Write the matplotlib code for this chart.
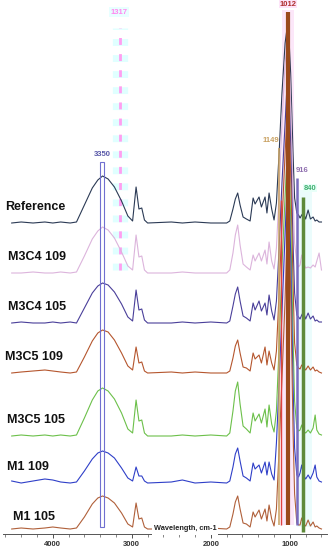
import matplotlib

matplotlib.use("Agg")
import matplotlib.pyplot as plt
import numpy as np
from matplotlib.patches import Rectangle
from matplotlib.ticker import MultipleLocator

plt.rcParams["font.family"] = ["Liberation Sans", "DejaVu Sans"]

# wavenumber grid (cm-1), shared by all spectra
wn = [4520, 4400, 4250, 4100, 4000, 3900, 3780, 3700,
      3600, 3500, 3430, 3370, 3300, 3220, 3130, 3050, 2990,
      2946, 2910, 2874, 2840, 2800,
      2500, 2360, 2200, 2000,
      1800, 1760, 1720, 1690, 1660, 1630, 1592, 1550, 1503,
      1465, 1440, 1390, 1360, 1314, 1290, 1263, 1230, 1200,
      1170, 1136, 1100, 1060, 1022, 990, 960, 940,
      912, 890, 871, 850, 829, 800, 769, 740, 706, 680, 659, 630, 600]

names = ["Reference", "M3C4 109", "M3C4 105", "M3C5 109", "M3C5 105", "M1 109", "M1 105"]
colors = ["#2b3a55", "#dcb4dc", "#4a3f9a", "#b5562e", "#6cc04a", "#2f3fc8", "#b0603a"]
offsets = [311, 261, 211, 161, 98, 51, 5]   # stacking offset, arbitrary units
label_x = [4605, 4570, 4570, 4605, 4580, 4580, 4500]

ref = [0, 1, 0, 1, 0, 1, 0, 1,
       18, 35, 43, 47, 44, 36, 22, 7, 2,
       36, 14, 15, 3, 0,
       1, 0, 1, 0,
       0, 2, 14, 24, 30, 18, 6, 4, 2,
       25, 19, 26, 16, 26, 10, 30, 14, 3,
       20, 70, 130, 180, 203, 150, 70, 25,
       10, 8, 5, 8, 10, 4, 13, 4, 6, 2, 3, 1, 1]
m3c4_109 = [0, 0, 1, 0, 0, 1, 0, 1,
            17, 34, 42, 46, 43, 35, 21, 7, 3,
            38, 16, 17, 3, 0,
            0, 1, 0, 0,
            0, 3, 20, 38, 48, 28, 9, 6, 3,
            18, 12, 20, 12, 23, 9, 31, 12, 4,
            25, 80, 150, 210, 240, 170, 80, 30,
            10, 6, 8, 18, 10, 5, 6, 5, 8, 6, 12, 20, 3]
m3c4_105 = [0, 1, 0, 0, 1, 0, 1, 0,
            15, 30, 37, 40, 38, 31, 19, 6, 2,
            33, 13, 14, 3, 0,
            0, 1, 0, 1,
            0, 2, 17, 29, 36, 22, 7, 5, 2,
            20, 13, 22, 12, 20, 8, 28, 12, 3,
            22, 75, 140, 200, 260, 180, 80, 30,
            8, 6, 4, 8, 11, 4, 10, 4, 7, 2, 3, 1, 1]
m3c5_109 = [0, 1, 2, 3, 2, 1, 0, 1,
            16, 32, 40, 43, 41, 33, 20, 7, 3,
            26, 10, 11, 2, 0,
            1, 0, 1, 0,
            0, 2, 15, 27, 33, 20, 6, 5, 2,
            20, 14, 18, 10, 26, 8, 22, 10, 3,
            22, 80, 150, 220, 280, 200, 90, 30,
            8, 5, 4, 8, 6, 3, 7, 3, 6, 2, 3, 1, 0]
m3c5_105 = [0, 1, 0, 1, 0, 1, 0, 1,
            18, 36, 45, 48, 45, 37, 23, 7, 3,
            36, 15, 16, 3, 0,
            0, 1, 0, 1,
            0, 3, 25, 45, 54, 32, 10, 7, 3,
            23, 15, 22, 13, 27, 9, 31, 12, 4,
            25, 90, 170, 240, 300, 220, 100, 35,
            8, 5, 6, 11, 5, 3, 6, 3, 8, 21, 6, 2, 1]
m1_109 = [2, 0, 2, 4, 3, 1, 0, 1,
          12, 24, 30, 32, 30, 25, 15, 5, 2,
          16, 7, 7, 2, 0,
          1, 3, 0, 1,
          0, 2, 16, 29, 35, 22, 7, 5, 2,
          20, 14, 18, 10, 21, 8, 21, 9, 3,
          40, 100, 170, 250, 320, 230, 100, 35,
          8, 6, 10, 18, 8, 4, 8, 4, 10, 18, 6, 2, 1]
m1_105 = [0, 1, 0, 1, 2, 1, 0, 1,
          12, 25, 31, 33, 31, 26, 16, 5, 2,
          26, 10, 11, 2, 0,
          0, 1, 0, 1,
          0, 2, 15, 27, 33, 20, 6, 5, 2,
          17, 12, 19, 10, 20, 8, 24, 10, 3,
          20, 80, 150, 230, 330, 240, 100, 35,
          6, 4, 4, 11, 5, 3, 9, 3, 7, 2, 3, 1, 0]
spectra = [ref, m3c4_109, m3c4_105, m3c5_109, m3c5_105, m1_109, m1_105]

fig = plt.figure(figsize=(3.33, 5.5), dpi=100)
ax = fig.add_axes([3 / 333, 16 / 550, 324 / 333, 534 / 550])
ax.set_xlim(4630, 530)
ax.set_ylim(0, 534)

# highlight bands
ax.axvspan(1105, 950, ymin=9 / 534, ymax=524 / 534, color="#fbd8f6", alpha=0.6, lw=0, zorder=0)
ax.axvspan(908, 719, ymin=7 / 534, ymax=344 / 534, color="#e6fcfc", alpha=0.8, lw=0, zorder=0)

for y, name, c, off, lx in zip(spectra, names, colors, offsets, label_x):
    ax.plot(wn, np.array(y) + off, color=c, lw=0.8, zorder=2)
    ax.text(lx, off + 16 if name != "M1 105" else off + 12, name, fontsize=9, fontweight="bold",
            ha="left", va="center", color="#111111")

# marker lines
ax.add_patch(Rectangle((3352, 7), 50, 365, fill=False, edgecolor="#7070d0", lw=0.8, zorder=3))
ax.vlines(3155, 264, 506, color="#e0ffff", lw=11, linestyles=(0, (0.45, 0.6)), zorder=1)
ax.vlines(3155, 264, 506, color="#ff9ef0", lw=2, linestyles=(0, (2.5, 3.3)), zorder=1)
ax.vlines(1143, 9, 386, color="#c8a060", lw=1.1, zorder=3)
ax.vlines(1111, 9, 334, color="#e04040", lw=1.0, zorder=3)
ax.vlines(1023, 9, 522, color="#9a4a1c", lw=3, zorder=4)
ax.vlines(906, 9, 356, color="#7a6cc0", lw=1.8, zorder=3)
ax.vlines(829, 2, 337, color="#5e8a3a", lw=2.5, zorder=3)

pk = dict(fontsize=5.5, fontweight="bold", ha="center", va="center")
ax.text(3377, 380, "3350", color="#5858a8", **pk)
ax.text(3161, 522, "1317", color="#ff88f0",
        bbox=dict(facecolor="#e8ffff", edgecolor="none", pad=0.8), **pk)
ax.text(1022, 530, "1012", color="#b03030",
        bbox=dict(facecolor="#fde4f8", edgecolor="none", pad=0.5), **pk)
ax.text(1238, 393, "1149", color="#c8a060", **pk)
ax.text(845, 364, "916", color="#9070b0", **pk)
ax.text(744, 346, "840", color="#40b070",
        bbox=dict(facecolor="#e8fff8", edgecolor="none", pad=0.5), **pk)

ax.text(2326, 5, "Wavelength, cm-1", fontsize=5.3, fontweight="bold", ha="center", va="center",
        color="#222222", bbox=dict(facecolor="white", edgecolor="none", pad=1.5), zorder=5)

for s in ["left", "right", "top"]:
    ax.spines[s].set_visible(False)
ax.spines["bottom"].set_color("#555555")
ax.spines["bottom"].set_linewidth(0.7)
ax.set_yticks([])
ax.set_xticks([4000, 3000, 2000, 1000])
ax.xaxis.set_minor_locator(MultipleLocator(200))
ax.tick_params(axis="x", which="major", direction="out", length=3, width=0.6, pad=2,
               labelsize=5.5, colors="#333333")
ax.tick_params(axis="x", which="minor", direction="out", length=2, width=0.5, colors="#555555")
for t in ax.get_xticklabels():
    t.set_fontweight("bold")

fig.savefig("out.png", dpi=100)
